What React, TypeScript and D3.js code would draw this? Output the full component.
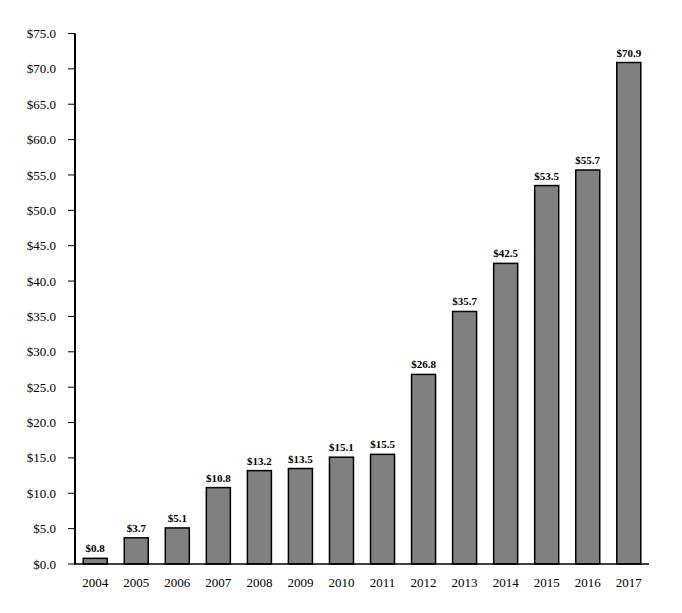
import * as d3 from "d3";
import React from "react";

const years = ["2004", "2005", "2006", "2007", "2008", "2009", "2010", "2011", "2012", "2013", "2014", "2015", "2016", "2017"];
const values = [0.8, 3.7, 5.1, 10.8, 13.2, 13.5, 15.1, 15.5, 26.8, 35.7, 42.5, 53.5, 55.7, 70.9];
const yTicks = [0, 5, 10, 15, 20, 25, 30, 35, 40, 45, 50, 55, 60, 65, 70, 75];

const WIDTH = 682;
const HEIGHT = 613;
const FONT = "'Liberation Serif', 'Times New Roman', serif";

const App: React.FC = () => {
  const x = d3.scaleBand().domain(years).range([75, 649]).paddingInner(0.415).paddingOuter(0.2);
  const y = d3.scaleLinear().domain([0, 75]).range([564, 33.5]);
  const fmt = (v: number) => `$${v.toFixed(1)}`;

  return (
    <svg
      width={WIDTH}
      height={HEIGHT}
      style={{ position: "absolute", left: 0, top: 0, background: "#fff" }}
      fontFamily={FONT}
    >
      {/* Bars */}
      {values.map((v, i) => (
        <rect
          key={years[i]}
          x={x(years[i])!}
          y={y(v)}
          width={x.bandwidth()}
          height={y(0) - y(v)}
          fill="#808080"
          stroke="#000"
          strokeWidth={1.5}
        />
      ))}

      {/* Value labels */}
      {values.map((v, i) => (
        <text
          key={`l-${years[i]}`}
          x={x(years[i])! + x.bandwidth() / 2}
          y={y(v) - 6}
          textAnchor="middle"
          fontSize={11}
          fontWeight="bold"
          fill="#000"
        >
          {fmt(v)}
        </text>
      ))}

      {/* Y axis */}
      <line x1={75} x2={75} y1={y(75)} y2={y(0)} stroke="#000" strokeWidth={2} />
      {yTicks.map((t) => (
        <g key={t}>
          <line x1={68} x2={75} y1={y(t)} y2={y(t)} stroke="#000" strokeWidth={1} />
          <text x={56} y={y(t)} dy="0.35em" textAnchor="end" fontSize={13} fill="#000">
            {fmt(t)}
          </text>
        </g>
      ))}

      {/* X axis */}
      <line x1={74} x2={649} y1={y(0)} y2={y(0)} stroke="#000" strokeWidth={1.5} />
      {years.map((yr) => (
        <text
          key={`x-${yr}`}
          x={x(yr)! + x.bandwidth() / 2}
          y={587}
          textAnchor="middle"
          fontSize={13}
          fill="#000"
        >
          {yr}
        </text>
      ))}
    </svg>
  );
};

export default App;
